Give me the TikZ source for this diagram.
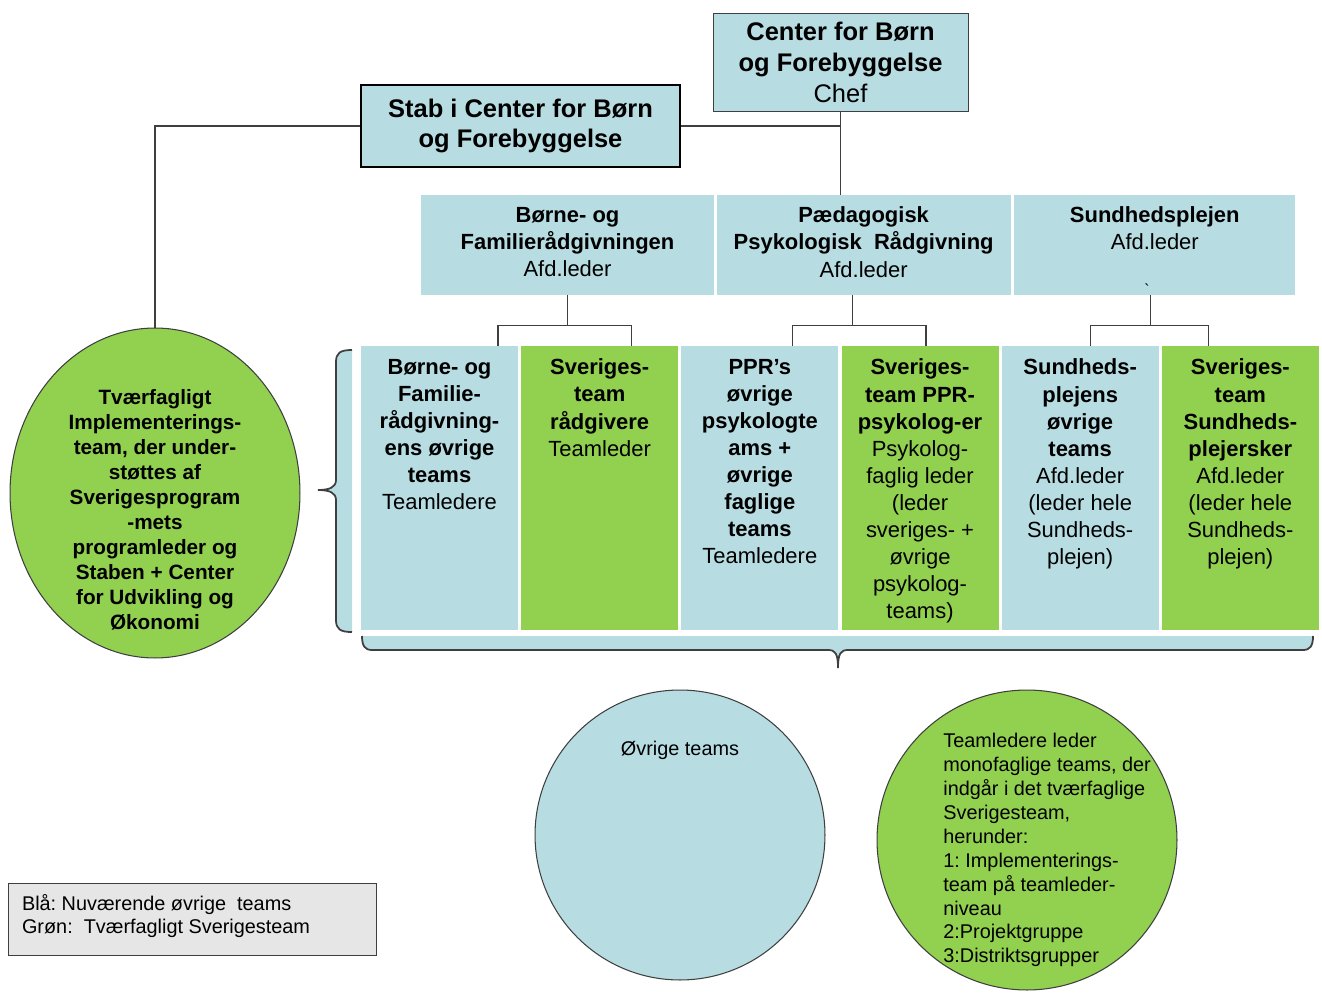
\documentclass[tikz,border=0pt]{standalone}
\usepackage{fontspec}
\setmainfont{Liberation Sans}
\usepackage{tikz}
\usetikzlibrary{positioning}
\usetikzlibrary{calc}
\usetikzlibrary{shapes.geometric}
\frenchspacing

\definecolor{paleblue}{HTML}{B7DDE3}
\definecolor{leafgreen}{HTML}{92D050}
\definecolor{linegray}{HTML}{3F3F3F}
\definecolor{legendgray}{HTML}{E6E6E6}

\begin{document}
\begin{tikzpicture}[
    x=0.02cm, y=-0.02cm,
    headbox/.style={rectangle, draw=linegray, fill=paleblue, align=center, font=\fontsize{14.5}{17.6}\selectfont},
    deptbox/.style={rectangle, fill=paleblue, minimum height=2cm, inner sep=0pt},
    teambox/.style={rectangle, minimum width=3.14cm, minimum height=5.68cm, inner sep=0pt},
    boxtext/.style={inner sep=0pt, align=center, font=\fontsize{12.5}{15.4}\selectfont},
    plaintext/.style={inner sep=0pt, align=left, font=\fontsize{11.3}{13.6}\selectfont},
    link/.style={draw=linegray, line width=0.7pt},
    bubble/.style={draw=linegray, line width=0.6pt, inner sep=0pt}
]
\useasboundingbox (0,0) rectangle (1322,997);

% top of the centre
\node[headbox, minimum width=5.1cm, minimum height=1.96cm] (chef) at (840.5,62) {\textbf{Center for Børn}\\\textbf{og Forebyggelse}\\Chef};
\node[headbox, draw=black, line width=1.4pt, minimum width=6.38cm, minimum height=1.64cm] (stab) at (520.5,126) {\textbf{Stab i Center for Børn}\\\textbf{og Forebyggelse}};

% departments
\node[deptbox, minimum width=5.86cm] (d1) at (567.5,245) {};
\node[deptbox, minimum width=5.88cm, right=0.04cm of d1] (d2) {};
\node[deptbox, minimum width=5.62cm, right=0.06cm of d2] (d3) {};
\node[boxtext, below=0.24cm of d1.north] (d1t) {\textbf{Børne- og}\\\textbf{Familierådgivningen}\\Afd.leder};
\node[boxtext, below=0.24cm of d2.north] (d2t) {\textbf{Pædagogisk}\\\textbf{Psykologisk~ Rådgivning}\\Afd.leder};
\node[boxtext, below=0.24cm of d3.north] (d3t) {\textbf{Sundhedsplejen}\\Afd.leder};
\node[inner sep=0pt, font=\fontsize{9}{9}\selectfont] (tick) at (1147,290) {\textasciigrave};

% teams
\node[teambox, fill=paleblue] (t1) at (439.5,488) {};
\node[teambox, fill=leafgreen, right=0.05cm of t1] (t2) {};
\node[teambox, fill=paleblue, right=0.05cm of t2] (t3) {};
\node[teambox, fill=leafgreen, right=0.05cm of t3] (t4) {};
\node[teambox, fill=paleblue, right=0.05cm of t4] (t5) {};
\node[teambox, fill=leafgreen, right=0.05cm of t5] (t6) {};

\node[boxtext, below=0.26cm of t1.north] (t1t) {\textbf{Børne- og}\\\textbf{Familie-}\\\textbf{rådgivning-}\\\textbf{ens øvrige}\\\textbf{teams}\\Teamledere};
\node[boxtext, below=0.26cm of t2.north] (t2t) {\textbf{Sveriges-}\\\textbf{team}\\\textbf{rådgivere}\\Teamleder};
\node[boxtext, below=0.26cm of t3.north] (t3t) {\textbf{PPR’s}\\\textbf{øvrige}\\\textbf{psykologte}\\\textbf{ams +}\\\textbf{øvrige}\\\textbf{faglige}\\\textbf{teams}\\Teamledere};
\node[boxtext, below=0.26cm of t4.north] (t4t) {\textbf{Sveriges-}\\\textbf{team PPR-}\\\textbf{psykolog-er}\\Psykolog-\\faglig leder\\(leder\\sveriges- +\\øvrige\\psykolog-\\teams)};
\node[boxtext, below=0.26cm of t5.north] (t5t) {\textbf{Sundheds-}\\\textbf{plejens}\\\textbf{øvrige}\\\textbf{teams}\\Afd.leder\\(leder hele\\Sundheds-\\plejen)};
\node[boxtext, below=0.26cm of t6.north] (t6t) {\textbf{Sveriges-}\\\textbf{team}\\\textbf{Sundheds-}\\\textbf{plejersker}\\Afd.leder\\(leder hele\\Sundheds-\\plejen)};

% implementation team
\node[bubble, ellipse, fill=leafgreen, minimum width=5.8cm, minimum height=6.6cm] (impl) at (155,493) {};
\node[inner sep=0pt, align=center, font=\bfseries\fontsize{11.8}{14.2}\selectfont] (implt) at (155,510) {Tværfagligt\\Implementerings-\\team, der under-\\støttes af\\Sverigesprogram\\-mets\\programleder og\\Staben + Center\\for Udvikling og\\Økonomi};

% braces
\draw[fill=paleblue, draw=linegray, line width=1pt] (352,350) .. controls (340,350) and (336,353) .. (336,362) -- (336,480) .. controls (336,487) and (330,490) .. (318,490) .. controls (330,490) and (336,493) .. (336,500) -- (336,620) .. controls (336,629) and (340,632) .. (352,632);
\draw[fill=paleblue, draw=linegray, line width=1pt] (362,636) .. controls (362,646) and (365,650) .. (372,650) -- (828,650) .. controls (835,650) and (838,653) .. (838,668) .. controls (838,653) and (841,650) .. (848,650) -- (1303,650) .. controls (1310,650) and (1313,646) .. (1313,636);

% bottom circles
\node[bubble, circle, fill=paleblue, minimum size=5.8cm] (rest) at (680,835) {};
\node[plaintext] (restt) at (680,750) {Øvrige teams};
\node[bubble, circle, fill=leafgreen, minimum size=6cm] (mono) at (1027,840) {};
\node[plaintext, anchor=north west] (monot) at (943,733) {Teamledere leder\\monofaglige teams, der\\indgår i det tværfaglige\\Sverigesteam,\\herunder:\\1: Implementerings-\\team på teamleder-\\niveau\\2:Projektgruppe\\3:Distriktsgrupper};

% legend
\node[rectangle, draw=linegray, fill=legendgray, minimum width=7.36cm, minimum height=1.44cm, inner sep=0pt] (legend) at (192,919) {};
\node[plaintext, anchor=north west] (legendt) at ($(legend.north west)+(14,11)$) {Blå: Nuværende øvrige~ teams\\Grøn:~ Tværfagligt Sverigesteam};

% connectors
\draw[link] (chef.south) -- (chef.south |- d2.north);
\draw[link] (stab.east) -- (stab.east -| chef.south);
\draw[link] (stab.west) -| (impl.north);

\draw[link] (d1.south) -- ++(0,30) coordinate (j1);
\draw[link] ($(t1.north)+(58.5,0)$) |- (j1) -| ($(t2.north)+(32,0)$);
\draw[link] ($(d2.south)+(-11,0)$) -- ++(0,30) coordinate (j2);
\draw[link] ($(t3.north)+(32.5,0)$) |- (j2) -| ($(t4.north)+(6,0)$);
\draw[link] ($(d3.south)+(-4.5,0)$) -- ++(0,30) coordinate (j3);
\draw[link] ($(t5.north)+(10.5,0)$) |- (j3) -| ($(t6.north)+(-32,0)$);
\end{tikzpicture}
\end{document}
